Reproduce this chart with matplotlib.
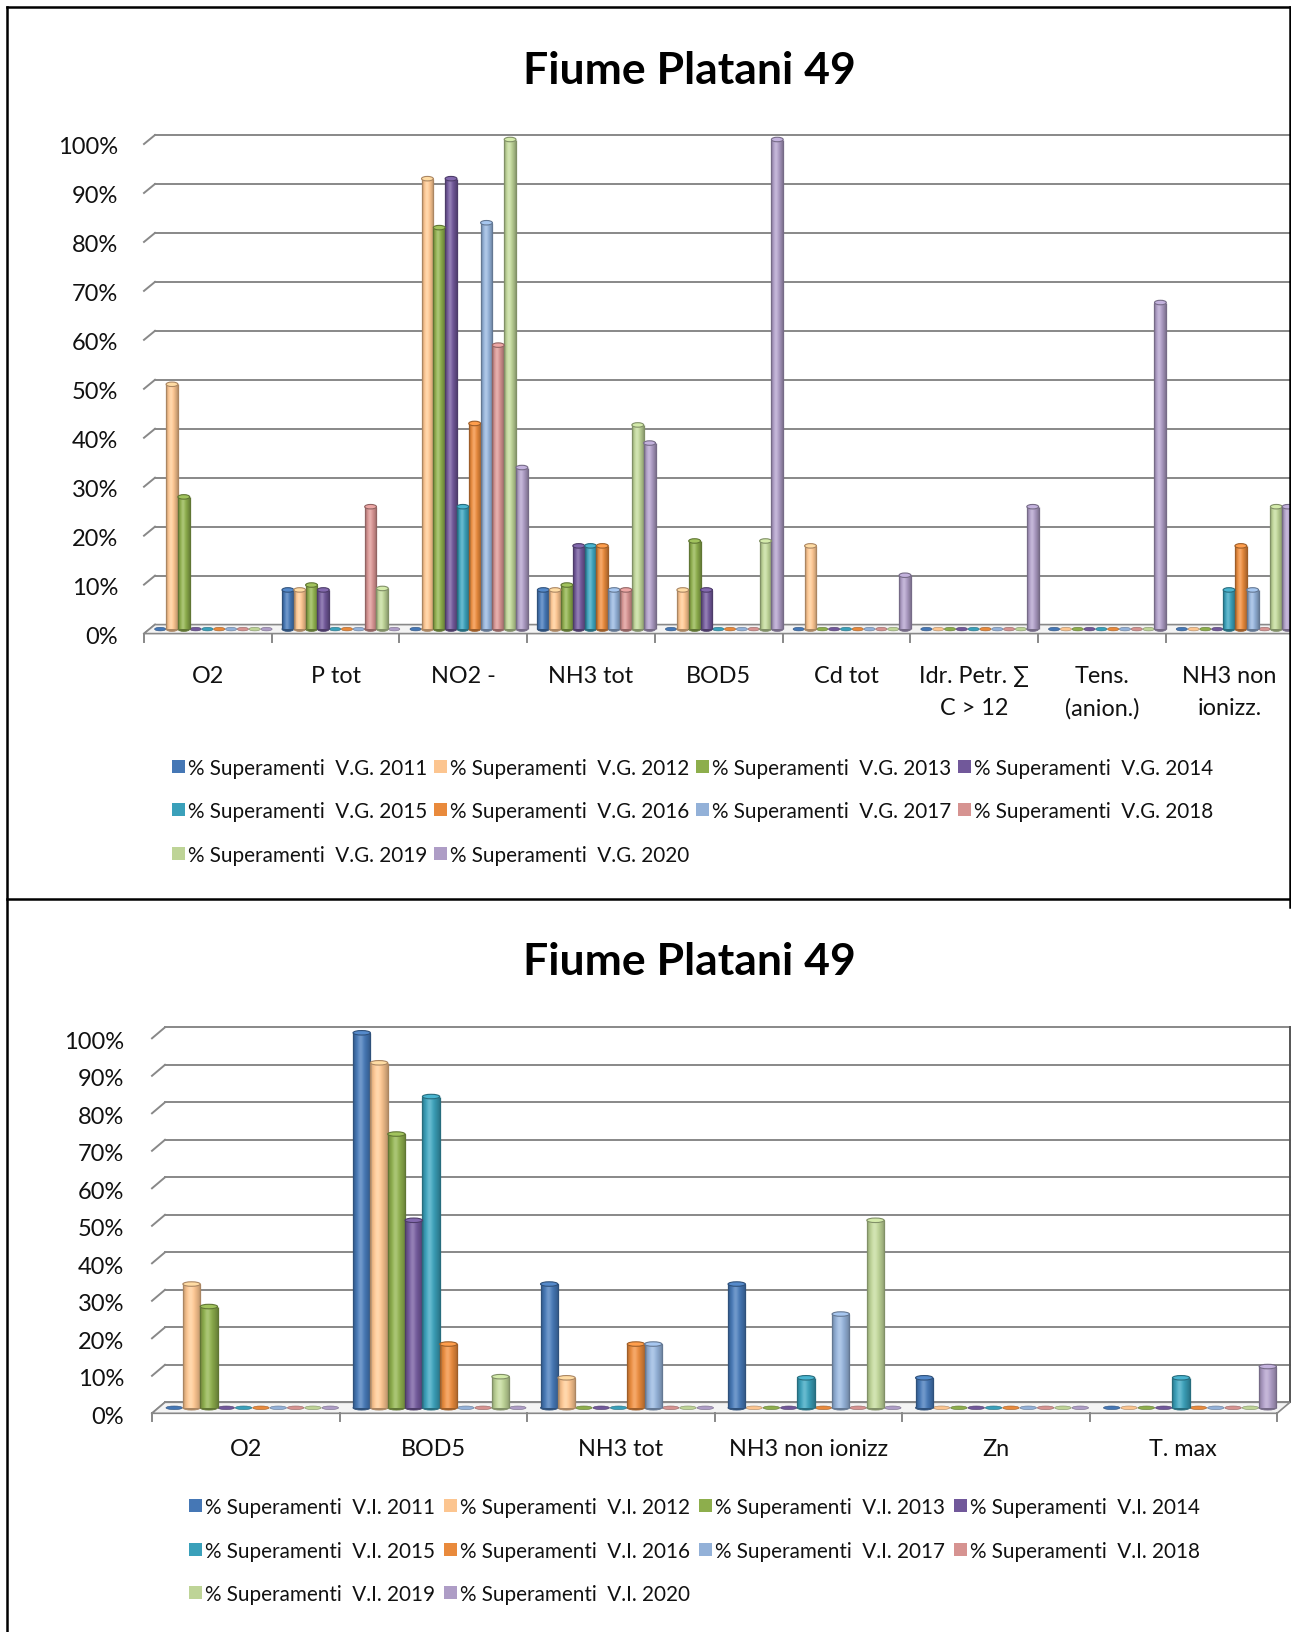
import numpy as np
import matplotlib
matplotlib.use("Agg")
import matplotlib.pyplot as plt
from matplotlib.patches import Rectangle, Ellipse, Polygon
from matplotlib.colors import to_rgb

plt.rcParams['font.family'] = ['Lato', 'DejaVu Sans']

FIG_W, FIG_H = 1291, 1633

anni = [2011, 2012, 2013, 2014, 2015, 2016, 2017, 2018, 2019, 2020]
colori = ['#4577B5', '#FCC590', '#8DAE4C', '#71589A', '#3AA0BA',
          '#E98A3C', '#93B1D8', '#D69391', '#BED497', '#AE9DC6']
titolo = "Fiume Platani 49"
y_ticks = [0, 10, 20, 30, 40, 50, 60, 70, 80, 90, 100]

# superamenti valori guida (V.G.)
cat_vg = ["O2", "P tot", "NO2 -", "NH3 tot", "BOD5", "Cd tot",
          "Idr. Petr. \u2211\nC > 12", "Tens.\n(anion.)", "NH3 non\nionizz."]
vg_2011 = [0, 8, 0, 8, 0, 0, 0, 0, 0]
vg_2012 = [50, 8, 92, 8, 8, 17, 0, 0, 0]
vg_2013 = [27, 9, 82, 9, 18, 0, 0, 0, 0]
vg_2014 = [0, 8, 92, 17, 8, 0, 0, 0, 0]
vg_2015 = [0, 0, 25, 17, 0, 0, 0, 0, 8]
vg_2016 = [0, 0, 42, 17, 0, 0, 0, 0, 17]
vg_2017 = [0, 0, 83, 8, 0, 0, 0, 0, 8]
vg_2018 = [0, 25, 58, 8, 0, 0, 0, 0, 0]
vg_2019 = [0, 8.3, 100, 41.7, 18, 0, 0, 0, 25]
vg_2020 = [0, 0, 33, 38, 100, 11, 25, 66.7, 25]

# superamenti valori imperativi (V.I.)
cat_vi = ["O2", "BOD5", "NH3 tot", "NH3 non ionizz", "Zn", "T. max"]
vi_2011 = [0, 100, 33, 33, 8, 0]
vi_2012 = [33, 92, 8, 0, 0, 0]
vi_2013 = [27, 73, 0, 0, 0, 0]
vi_2014 = [0, 50, 0, 0, 0, 0]
vi_2015 = [0, 83, 0, 8, 0, 8]
vi_2016 = [0, 17, 17, 0, 0, 0]
vi_2017 = [0, 0, 17, 25, 0, 0]
vi_2018 = [0, 0, 0, 0, 0, 0]
vi_2019 = [0, 8.3, 0, 50, 0, 0]
vi_2020 = [0, 0, 0, 0, 0, 11]

serie_vg = [vg_2011, vg_2012, vg_2013, vg_2014, vg_2015,
            vg_2016, vg_2017, vg_2018, vg_2019, vg_2020]
serie_vi = [vi_2011, vi_2012, vi_2013, vi_2014, vi_2015,
            vi_2016, vi_2017, vi_2018, vi_2019, vi_2020]

GRID = '#888888'
TESTO = '#111111'


def fx(x):
    return x / FIG_W


def fy(y):
    return 1 - y / FIG_H


def cilindro(ax, x0, w, yb, h, colore, eh):
    """Colonna cilindrica con sfumatura orizzontale"""
    base = np.array(to_rgb(colore))
    scuro = base * 0.68
    xc = x0 + w / 2
    if h <= 0:
        ax.add_patch(Ellipse((xc, yb), w * 0.95, eh * 0.8, facecolor=base,
                             edgecolor=scuro, lw=0.4, zorder=3, clip_on=False))
        return
    t = np.linspace(0, 1, 48)
    s = np.sin(np.pi * t ** 0.8)
    k = 0.74 + 0.30 * s
    grad = np.clip(base[None, :] * k[:, None], 0, 1)
    grad = grad + (1 - grad) * (0.22 * s ** 8)[:, None]
    ax.add_patch(Ellipse((xc, yb), w, eh, facecolor=scuro, edgecolor=scuro,
                         lw=0.6, zorder=3, clip_on=False))
    ax.imshow(grad[None, :, :], extent=(x0, x0 + w, yb, yb + h),
              aspect='auto', interpolation='bilinear', zorder=4, clip_on=False)
    ax.plot([x0, x0], [yb, yb + h], color=scuro, lw=0.9, zorder=5,
            solid_capstyle='butt', clip_on=False)
    ax.plot([x0 + w, x0 + w], [yb, yb + h], color=scuro, lw=0.9, zorder=5,
            solid_capstyle='butt', clip_on=False)
    top = np.clip(base * 1.05 + 0.05, 0, 1)
    ax.add_patch(Ellipse((xc, yb + h), w, eh, facecolor=top, edgecolor=scuro,
                         lw=0.8, zorder=6, clip_on=False))


def pannello(fig, categorie, serie, sigla, back_left, back_right, y0, y100,
             depth, lab_gap, cat_pad, title_y, leg_x, leg_step, leg_rows):
    ncat = len(categorie)
    ax = fig.add_axes([fx(back_left), fy(y0), fx(back_right - back_left),
                       (y0 - y100) / FIG_H])
    ax.set_axis_off()
    ax.set_autoscale_on(False)
    ax.set_xlim(0, ncat)
    ax.set_ylim(0, 100)

    px_x = (back_right - back_left) / ncat
    px_y = (y0 - y100) / 100
    ddx = depth[0] / px_x
    ddy = depth[1] / px_y

    # parete di fondo: griglia e raccordi prospettici
    for v in y_ticks:
        ax.plot([0, ncat], [v, v], color=GRID, lw=1.4, zorder=1, clip_on=False)
        ax.plot([-ddx, 0], [v - ddy, v], color=GRID, lw=1.4, zorder=1,
                clip_on=False)
        ax.text(-ddx - lab_gap / px_x, v - ddy - 3 / px_y, f"{v}%",
                ha='right', va='center', fontsize=17, color=TESTO)
    ax.plot([ncat, ncat], [0, 100], color='#555555', lw=1.4, zorder=1,
            clip_on=False)

    # pavimento
    ax.add_patch(Polygon([(0, 0), (ncat, 0), (ncat - ddx, -ddy), (-ddx, -ddy)],
                         closed=True, facecolor='#F4F4F4', edgecolor=GRID,
                         lw=1.2, zorder=1, clip_on=False))
    for i in range(ncat + 1):
        ax.plot([i - ddx, i - ddx], [-ddy, -ddy - 8 / px_y], color=GRID,
                lw=1.4, zorder=1, clip_on=False)
    for i, cat in enumerate(categorie):
        ax.text(i + 0.5 - ddx, -ddy - cat_pad / px_y, cat, ha='center',
                va='top', fontsize=16.8, linespacing=1.65, color=TESTO)

    # colonne
    n = len(serie)
    bw = 0.0925
    start = (1 - n * bw) / 2
    eh = 4.5 / px_y
    for j, (vals, col) in enumerate(zip(serie, colori)):
        for i, v in enumerate(vals):
            x0 = i + start + j * bw - ddx / 2
            cilindro(ax, x0, bw, -ddy / 2, v, col, eh)

    fig.text(fx(689), fy(title_y), titolo, ha='center', va='center',
             fontsize=32, fontweight='bold', color='black')

    # legenda
    for k, anno in enumerate(anni):
        r, c = divmod(k, 4)
        x = leg_x + c * leg_step
        y = leg_rows[r]
        fig.patches.append(Rectangle((fx(x), fy(y + 6.5)), fx(13), 13 / FIG_H,
                                     transform=fig.transFigure,
                                     facecolor=colori[k], edgecolor='none'))
        fig.text(fx(x + 16), fy(y + 2), f"% Superamenti  {sigla} {anno}",
                 ha='left', va='center', fontsize=14.9, color=TESTO)
    return ax


fig = plt.figure(figsize=(FIG_W / 100, FIG_H / 100), dpi=100)
fig.patch.set_facecolor('white')

pannello(fig, cat_vg, serie_vg, "V.G.", 155, 155 + 9 * 127.7, 625.6, 136,
         (11, 9), 26, 31.5, 71, 172, 262, [767, 810, 854])
pannello(fig, cat_vi, serie_vi, "V.I.", 165, 165 + 6 * 187.5, 1403.3, 1028.3,
         (13, 11), 28, 25, 962, 189, 255, [1506.5, 1550, 1593])

# riquadri del documento
for xs, ys in [([7, 7], [8, FIG_H]), ([7, 1290], [8, 8]),
               ([7, 1290], [900, 900]), ([1290, 1290], [8, 908])]:
    fig.add_artist(plt.Line2D([fx(x) for x in xs], [fy(y) for y in ys],
                              transform=fig.transFigure, color='black', lw=1.8))

fig.savefig("out.png", dpi=100)
